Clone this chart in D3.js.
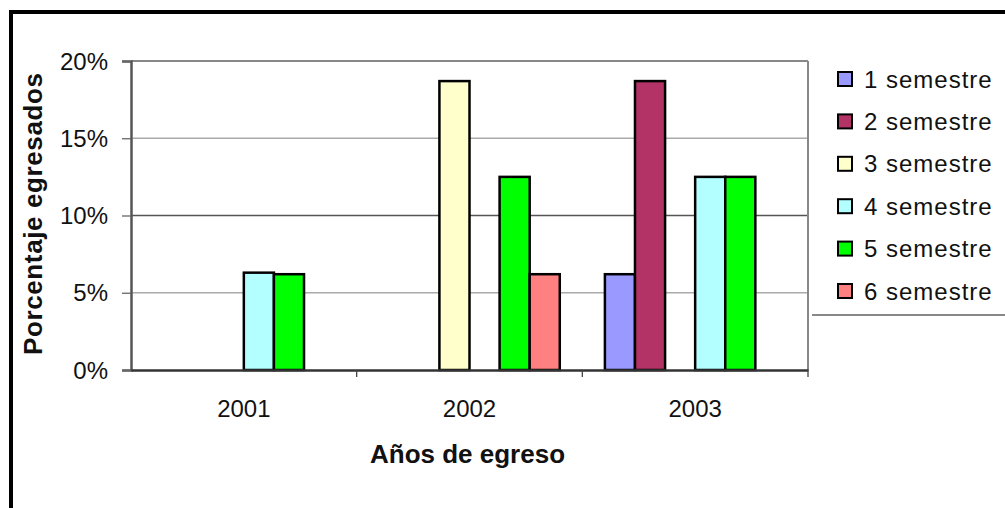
<!DOCTYPE html>
<html>
<head>
<meta charset="utf-8">
<script src="https://cdn.jsdelivr.net/npm/d3@7"></script>
<style>
  html, body { margin: 0; padding: 0; background: #fff; }
  svg { display: block; font-family: Arial, "Liberation Sans", sans-serif; }
</style>
</head>
<body>
<svg id="chart"></svg>
<script>
const categories = ['2001', '2002', '2003'];
const seriesNames = ['1 semestre', '2 semestre', '3 semestre', '4 semestre', '5 semestre', '6 semestre'];
const seriesColors = ['#9999ff', '#b33366', '#ffffcc', '#b3ffff', '#00ff00', '#ff8080'];
// percent per year, one array per series
const sem1 = [0, 0, 6.2];
const sem2 = [0, 0, 18.7];
const sem3 = [0, 18.7, 0];
const sem4 = [6.3, 0, 12.5];
const sem5 = [6.2, 12.5, 12.5];
const sem6 = [0, 6.2, 0];
const yTicks = [0, 5, 10, 15, 20];

const seriesValues = [sem1, sem2, sem3, sem4, sem5, sem6];

const width = 1005, height = 508;
const plot = { left: 131, right: 808, top: 61, bottom: 370 };

const svg = d3.select('#chart')
  .attr('width', width)
  .attr('height', height);

// outer black frame (cut off at right/bottom)
svg.append('rect')
  .attr('x', 11).attr('y', 12)
  .attr('width', 1100).attr('height', 600)
  .attr('fill', 'none')
  .attr('stroke', '#000')
  .attr('stroke-width', 4);

const x = d3.scaleBand()
  .domain(categories)
  .range([plot.left, plot.right]);

const xInner = d3.scaleBand()
  .domain(seriesNames)
  .range([0, x.bandwidth()])
  .paddingInner(0)
  .paddingOuter(0.75);

const y = d3.scaleLinear()
  .domain([0, 20])
  .range([plot.bottom, plot.top]);

// gridlines
svg.append('g')
  .selectAll('line')
  .data(yTicks.filter(d => d > 0 && d < 20))
  .enter().append('line')
  .attr('x1', plot.left).attr('x2', plot.right)
  .attr('y1', d => y(d)).attr('y2', d => y(d))
  .attr('stroke', d => d === 10 ? '#555' : '#aaa')
  .attr('stroke-width', 1.3);

// plot frame top / right
svg.append('line')
  .attr('x1', plot.left).attr('x2', plot.right)
  .attr('y1', plot.top).attr('y2', plot.top)
  .attr('stroke', '#888').attr('stroke-width', 2);
svg.append('line')
  .attr('x1', plot.right).attr('x2', plot.right)
  .attr('y1', plot.top).attr('y2', plot.bottom)
  .attr('stroke', '#888').attr('stroke-width', 2);

// bars
const rows = [];
seriesNames.forEach((name, si) => {
  categories.forEach((cat, ci) => {
    rows.push({ series: name, cat: cat, value: seriesValues[si][ci], color: seriesColors[si] });
  });
});

svg.append('g')
  .selectAll('rect')
  .data(rows.filter(d => d.value > 0))
  .enter().append('rect')
  .attr('x', d => x(d.cat) + xInner(d.series))
  .attr('y', d => y(d.value))
  .attr('width', xInner.bandwidth())
  .attr('height', d => y(0) - y(d.value))
  .attr('fill', d => d.color)
  .attr('stroke', '#000')
  .attr('stroke-width', 2.5);

// y axis
const yAxis = svg.append('g')
  .attr('transform', `translate(${plot.left},0)`)
  .call(d3.axisLeft(y).tickValues(yTicks).tickSize(9).tickPadding(14).tickFormat(d => d + '%'));
yAxis.select('.domain').attr('stroke', '#555').attr('stroke-width', 2.5);
yAxis.selectAll('.tick line').attr('stroke', '#666').attr('stroke-width', 1.3);
yAxis.selectAll('.tick text')
  .attr('font-size', 24)
  .attr('font-family', 'Arial, "Liberation Sans", sans-serif')
  .attr('fill', '#111')
  .attr('dy', '0.34em');

// x axis
const xAxis = svg.append('g')
  .attr('transform', `translate(0,${plot.bottom})`)
  .call(d3.axisBottom(x).tickSize(0).tickPadding(30));
xAxis.select('.domain').attr('stroke', '#333').attr('stroke-width', 2.5);
xAxis.selectAll('.tick text')
  .attr('font-size', 24)
  .attr('font-family', 'Arial, "Liberation Sans", sans-serif')
  .attr('fill', '#111');

// category boundary ticks
svg.append('g')
  .selectAll('line')
  .data(categories)
  .enter().append('line')
  .attr('x1', d => x(d) + x.bandwidth()).attr('x2', d => x(d) + x.bandwidth())
  .attr('y1', plot.bottom).attr('y2', plot.bottom + 7)
  .attr('stroke', '#444').attr('stroke-width', 1.3);

// axis titles
svg.append('text')
  .attr('x', (plot.left + plot.right) / 2 - 2)
  .attr('y', 463)
  .attr('text-anchor', 'middle')
  .attr('font-size', 26)
  .attr('font-weight', 'bold')
  .attr('fill', '#111')
  .text('Años de egreso');

svg.append('text')
  .attr('transform', `translate(42,${(73 + 355) / 2}) rotate(-90)`)
  .attr('text-anchor', 'middle')
  .attr('font-size', 26)
  .attr('font-weight', 'bold')
  .attr('fill', '#111')
  .attr('textLength', 282)
  .attr('lengthAdjust', 'spacing')
  .text('Porcentaje egresados');

// legend
const legendY = d3.scalePoint()
  .domain(seriesNames)
  .range([79, 291]);

const legend = svg.append('g');
const item = legend.selectAll('g')
  .data(seriesNames)
  .enter().append('g')
  .attr('transform', d => `translate(838,${legendY(d)})`);

item.append('rect')
  .attr('x', 0).attr('y', -7)
  .attr('width', 14).attr('height', 14)
  .attr('fill', (d, i) => seriesColors[i])
  .attr('stroke', '#000')
  .attr('stroke-width', 2);

item.append('text')
  .attr('x', 26)
  .attr('y', 8.5)
  .attr('font-size', 24)
  .attr('letter-spacing', 1)
  .attr('fill', '#111')
  .text(d => d);

legend.append('line')
  .attr('x1', 812).attr('x2', 1005)
  .attr('y1', 315).attr('y2', 315)
  .attr('stroke', '#888').attr('stroke-width', 2);
</script>
</body>
</html>
